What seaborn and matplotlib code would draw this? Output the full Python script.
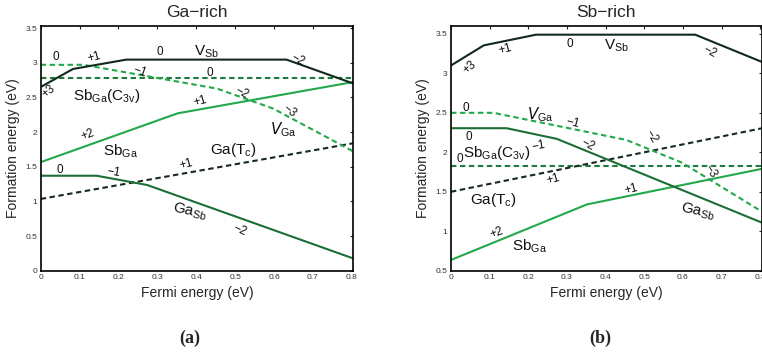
import numpy as np
import pandas as pd
import matplotlib
matplotlib.use("Agg")
import matplotlib.pyplot as plt
import seaborn as sns

sns.set_theme(style="white")
plt.rcParams['font.family'] = ['Liberation Sans', 'DejaVu Sans']
plt.rcParams['mathtext.default'] = 'regular'

# ---------------- data (formation energies, eV) ----------------
XMAX = 0.804
# Ga-rich
ga_vsb_x = [0, 0.083, 0.22, 0.632, XMAX]
ga_vsb_y = [2.65, 2.91, 3.045, 3.045, 2.70]
ga_vga_x = [0, 0.11, 0.454, 0.598, XMAX]
ga_vga_y = [2.97, 2.97, 2.626, 2.338, 1.72]
ga_c3v_x = [0, XMAX]
ga_c3v_y = [2.775, 2.775]
ga_sbga_x = [0, 0.352, XMAX]
ga_sbga_y = [1.566, 2.27, 2.722]
ga_gatc_x = [0, XMAX]
ga_gatc_y = [1.035, 1.839]
ga_gasb_x = [0, 0.144, 0.274, XMAX]
ga_gasb_y = [1.37, 1.37, 1.236, 0.176]
# Sb-rich
sb_vsb_x = [0, 0.085, 0.22, 0.632, XMAX]
sb_vsb_y = [3.10, 3.355, 3.49, 3.49, 3.146]
sb_vga_x = [0, 0.11, 0.454, 0.598, XMAX]
sb_vga_y = [2.50, 2.50, 2.156, 1.868, 1.25]
sb_c3v_x = [0, XMAX]
sb_c3v_y = [1.83, 1.83]
sb_sbga_x = [0, 0.352, XMAX]
sb_sbga_y = [0.636, 1.34, 1.79]
sb_gatc_x = [0, XMAX]
sb_gatc_y = [1.50, 2.304]
sb_gasb_x = [0, 0.144, 0.274, XMAX]
sb_gasb_y = [2.305, 2.305, 2.17, 1.11]

x_ticks = [0, 0.1, 0.2, 0.3, 0.4, 0.5, 0.6, 0.7, 0.8]
x_ticklabels = ["0", "0.1", "0.2", "0.3", "0.4", "0.5", "0.6", "0.7", "0.8"]
ga_yticks = [0, 0.5, 1, 1.5, 2, 2.5, 3, 3.5]
ga_yticklabels = ["0", "0.5", "1", "1.5", "2", "2.5", "3", "3.5"]
sb_yticks = [0.5, 1, 1.5, 2, 2.5, 3, 3.5]
sb_yticklabels = ["0.5", "1", "1.5", "2", "2.5", "3", "3.5"]

# ---------------- styles ----------------
C_BRIGHT = "#22a94b"
C_MID = "#1b6e36"
C_DARK = "#10291a"
C_DASHMID = "#1d7a3b"
C_DASHDARK = "#18291d"

LW = 1.5
DASH = (2.6, 1.7)

def draw(ax, x, y, color, dashed=False):
    df = pd.DataFrame({"x": x, "y": y})
    sns.lineplot(data=df, x="x", y="y", ax=ax, color=color, lw=LW,
                 estimator=None, sort=False, legend=False)
    if dashed:
        ax.lines[-1].set_dashes(DASH)

fig = plt.figure(figsize=(7.62, 3.54), dpi=100)
axL = fig.add_axes([40.7 / 762, 1 - 270.7 / 354, 312.7 / 762, 244.7 / 354])
axR = fig.add_axes([451 / 762, 1 - 270.7 / 354, 310.7 / 762, 244.7 / 354])

# Ga-rich
draw(axL, ga_c3v_x, ga_c3v_y, C_DASHMID, True)
draw(axL, ga_gatc_x, ga_gatc_y, C_DASHDARK, True)
draw(axL, ga_vga_x, ga_vga_y, C_BRIGHT, True)
draw(axL, ga_sbga_x, ga_sbga_y, C_BRIGHT)
draw(axL, ga_gasb_x, ga_gasb_y, C_MID)
draw(axL, ga_vsb_x, ga_vsb_y, C_DARK)
# Sb-rich
draw(axR, sb_c3v_x, sb_c3v_y, C_DASHMID, True)
draw(axR, sb_gatc_x, sb_gatc_y, C_DASHDARK, True)
draw(axR, sb_vga_x, sb_vga_y, C_BRIGHT, True)
draw(axR, sb_sbga_x, sb_sbga_y, C_BRIGHT)
draw(axR, sb_gasb_x, sb_gasb_y, C_MID)
draw(axR, sb_vsb_x, sb_vsb_y, C_DARK)

for ax, yt, ytl, ylim, title in [
        (axL, ga_yticks, ga_yticklabels, (0, 3.53), "Ga\u2212rich"),
        (axR, sb_yticks, sb_yticklabels, (0.5, 3.6), "Sb\u2212rich")]:
    ax.set_xlim(0, XMAX)
    ax.set_ylim(*ylim)
    ax.set_xticks(x_ticks)
    ax.set_xticklabels(x_ticklabels)
    ax.set_yticks(yt)
    ax.set_yticklabels(ytl)
    ax.tick_params(direction="in", length=2.2, width=0.8, top=True, right=True,
                   labelsize=6, pad=2.5, colors="#222222", labelcolor="#333333")
    for s in ax.spines.values():
        s.set_linewidth(1.2)
        s.set_color("black")
    ax.set_xlabel("Fermi energy (eV)", fontsize=10)
    ax.xaxis.set_label_coords(0.5, -0.09)
    ax.xaxis.label.set_va("center")
    ax.set_ylabel("Formation energy (eV)", fontsize=10)
    ax.yaxis.set_label_coords(-0.089, 0.5)
    ax.yaxis.label.set_va("center")
    ax.set_title(title, fontsize=12.5, y=1.054, va="center", pad=0)

def lab(ax, x, y, s, rot=0, size=8.5):
    ax.text(x, y, s, fontsize=size, rotation=rot, ha="center", va="center",
            rotation_mode="anchor", color="#111111")

M = "\u2212"
# Ga-rich labels
lab(axL, 0.039, 3.09, "0")
lab(axL, 0.137, 3.08, "+1", 15)
lab(axL, 0.307, 3.16, "0")
lab(axL, 0.427, 3.165, "V$_{Sb}$", 0, 11)
lab(axL, 0.662, 3.045, M + "2", -30)
lab(axL, 0.02, 2.59, "+3", 40)
lab(axL, 0.255, 2.875, M + "1", -20)
lab(axL, 0.435, 2.85, "0")
lab(axL, 0.17, 2.52, "Sb$_{Ga}$(C$_{3v}$)", 0, 11)
lab(axL, 0.517, 2.56, M + "2", -30)
lab(axL, 0.41, 2.44, "+1", 15)
lab(axL, 0.64, 2.30, M + "3", -40)
lab(axL, 0.624, 2.03, "$\\mathit{V}_{Ga}$", 0, 11)
lab(axL, 0.12, 1.96, "+2", 20)
lab(axL, 0.204, 1.72, "Sb$_{Ga}$", 0, 11)
lab(axL, 0.495, 1.74, "Ga(T$_{c}$)", 0, 11)
lab(axL, 0.375, 1.53, "+1", 15)
lab(axL, 0.048, 1.455, "0")
lab(axL, 0.187, 1.42, M + "1", -10)
lab(axL, 0.384, 0.85, "Ga$_{Sb}$", -12, 11)
lab(axL, 0.512, 0.59, M + "2", -25)

# Sb-rich labels
lab(axR, 0.049, 3.075, "+3", 40)
lab(axR, 0.14, 3.31, "+1", 15)
lab(axR, 0.308, 3.37, "0")
lab(axR, 0.429, 3.35, "V$_{Sb}$", 0, 11)
lab(axR, 0.67, 3.27, M + "2", -30)
lab(axR, 0.039, 2.566, "0")
lab(axR, 0.23, 2.48, "$\\mathit{V}_{Ga}$", 0, 11)
lab(axR, 0.316, 2.375, M + "1", -15)
lab(axR, 0.047, 2.197, "0")
lab(axR, 0.118, 1.99, "Sb$_{Ga}$(C$_{3v}$)", 0, 11)
lab(axR, 0.226, 2.08, M + "1", 10)
lab(axR, 0.023, 1.91, "0")
lab(axR, 0.355, 2.10, M + "2", -30)
lab(axR, 0.519, 2.20, M + "2", -60)
lab(axR, 0.67, 1.76, M + "3", -60)
lab(axR, 0.265, 1.654, "+1", 15)
lab(axR, 0.11, 1.40, "Ga(T$_{c}$)", 0, 11)
lab(axR, 0.467, 1.535, "+1", 15)
lab(axR, 0.64, 1.25, "Ga$_{Sb}$", -12, 11)
lab(axR, 0.118, 0.975, "+2", 20)
lab(axR, 0.204, 0.805, "Sb$_{Ga}$", 0, 11)

fig.text(190 / 762, 1 - 338 / 354, "(a)", fontsize=13, fontweight="bold",
         family="Liberation Serif", ha="center", va="center")
fig.text(600 / 762, 1 - 338 / 354, "(b)", fontsize=13, fontweight="bold",
         family="Liberation Serif", ha="center", va="center")

fig.savefig("out.png", dpi=100)
